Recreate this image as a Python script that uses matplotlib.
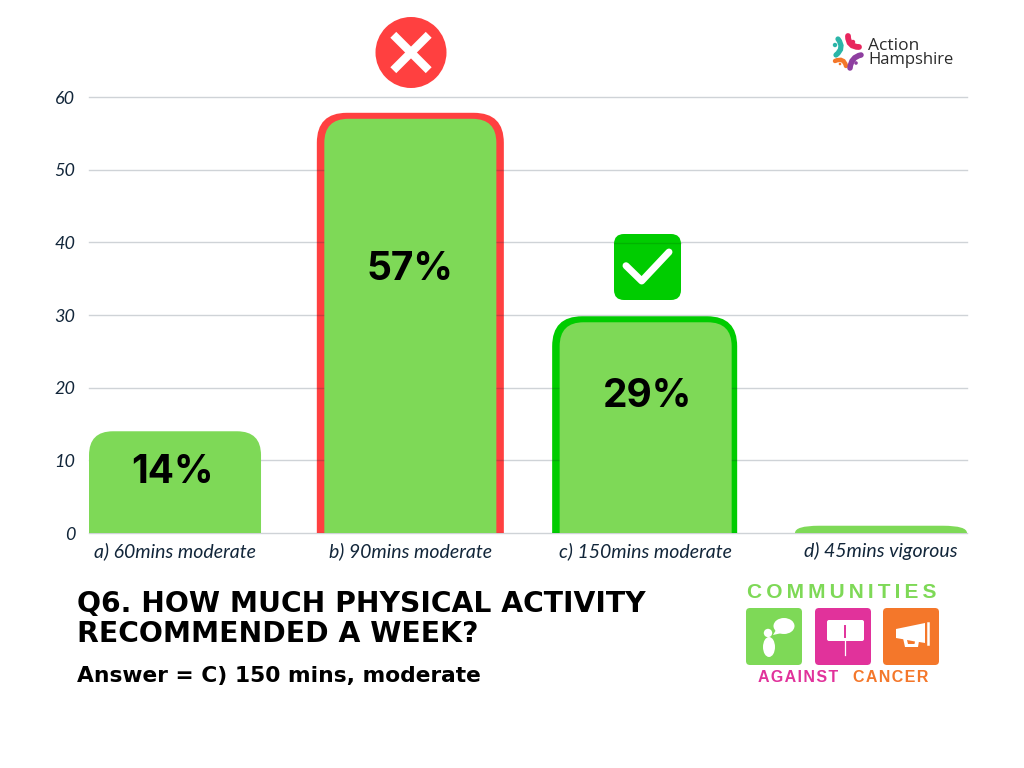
import numpy as np
import matplotlib
matplotlib.use("Agg")
import matplotlib.pyplot as plt
from matplotlib.path import Path
from matplotlib.patches import PathPatch, FancyBboxPatch, Circle, Polygon, Ellipse

categories = ['a) 60mins moderate', 'b) 90mins moderate', 'c) 150mins moderate', 'd) 45mins vigorous']
values = [14, 57, 29, 1]
value_labels = ['14%', '57%', '29%', '']
label_heights = [6.9, 34.8, 17.3, 0]
label_nudge = [-0.012, 0, 0.008, 0]
edge_colors = [None, '#ff4040', '#00cc00', None]
y_ticks = [0, 10, 20, 30, 40, 50, 60]

GREEN = '#7ed957'
PINK = '#e1329b'
ORANGE = '#f4772a'
INK = '#12263a'

W, H = 1024, 768
fig = plt.figure(figsize=(W / 100, H / 100), dpi=100, facecolor='white')

# axes box = plot area
ax = fig.add_axes([89 / W, 1 - 533 / H, 878 / W, 436 / H])
ax.set_ylim(0, 60)
ax.set_xlim(-86 / 235.3, 3 + 86 / 235.3)
px_x = 235.3
px_y = 436 / 60


def top_rounded(x0, x1, top, r):
    rx, ry = r / px_x, r / px_y
    rx = min(rx, (x1 - x0) / 2)
    ry = min(ry, top)
    verts = [(x0, 0), (x0, top - ry), (x0, top), (x0 + rx, top), (x1 - rx, top),
             (x1, top), (x1, top - ry), (x1, 0), (x0, 0)]
    codes = [Path.MOVETO, Path.LINETO, Path.CURVE3, Path.CURVE3, Path.LINETO,
             Path.CURVE3, Path.CURVE3, Path.LINETO, Path.CLOSEPOLY]
    return Path(verts, codes)


half = 86 / px_x
for i, v in enumerate(values):
    if edge_colors[i]:
        pad_l = 7.5
        pad_r = 7.5 if i == 1 else 5.5
        ax.add_patch(PathPatch(top_rounded(i - half - pad_l / px_x, i + half + pad_r / px_x, v + 6 / px_y, 30),
                               fc=edge_colors[i], ec='none', zorder=1, clip_on=False))
    ax.add_patch(PathPatch(top_rounded(i - half, i + half, v, 24), fc=GREEN, ec='none', zorder=4))
    ax.text(i + label_nudge[i], label_heights[i], value_labels[i], ha='center', va='baseline', fontsize=28,
            fontweight='bold', family='Inter', color='black', zorder=5)

ax.set_yticks(y_ticks)
ax.set_xticks(range(len(categories)))
ax.set_xticklabels(categories, fontsize=14, style='italic', family='Lato', color=INK)
for lab in ax.get_yticklabels():
    lab.set(fontsize=13, style='italic', family='Lato', color=INK)
ax.tick_params(length=0, axis='both')
ax.tick_params(axis='x', pad=6.5)
ax.tick_params(axis='y', pad=10)
ax.grid(axis='y', color=INK, alpha=0.2, lw=1, clip_on=False)
ax.set_axisbelow('line')
for s in ax.spines.values():
    s.set_visible(False)

# overlay in pixel coordinates for badges, captions and logos
ov = fig.add_axes([0, 0, 1, 1], zorder=10)
ov.set_xlim(0, W)
ov.set_ylim(H, 0)
ov.axis('off')
ov.patch.set_alpha(0)


def box(x, y, w, h, r, color):
    ov.add_patch(FancyBboxPatch((x + r, y + r), w - 2 * r, h - 2 * r,
                                boxstyle='round,pad=%f,rounding_size=%f' % (r, r), fc=color, ec='none'))


def curve(p0, p1, p2, color, lw):
    ov.add_patch(PathPatch(Path([p0, p1, p2], [Path.MOVETO, Path.CURVE3, Path.CURVE3]),
                           fc='none', ec=color, lw=lw, capstyle='round'))


# cross badge
ov.add_patch(Circle((411, 52.5), 35.5, fc='#ff4040', ec='none'))
ov.plot([393.3, 428.7], [34.8, 70.2], color='white', lw=6, solid_capstyle='butt')
ov.plot([393.3, 428.7], [70.2, 34.8], color='white', lw=6, solid_capstyle='butt')

# tick badge
box(614, 234, 67, 66, 10, '#00cc00')
ov.plot([614, 681], [243, 243], color='black', alpha=0.12, lw=1)
ov.plot([626, 641.7, 669], [265.7, 281, 252], color='white', lw=5, solid_capstyle='round', solid_joinstyle='round')

# caption
ov.text(77, 611.7, 'Q6. HOW MUCH PHYSICAL ACTIVITY', fontsize=20.3, fontweight='bold', family='DejaVu Sans',
        color='black', va='baseline', ha='left')
ov.text(77, 641.7, 'RECOMMENDED A WEEK?', fontsize=20.3, fontweight='bold', family='DejaVu Sans',
        color='black', va='baseline', ha='left')
ov.text(77, 681.7, 'Answer = C) 150 mins, moderate', fontsize=15.7, fontweight='bold', family='DejaVu Sans',
        color='black', va='baseline', ha='left')

# Communities Against Cancer logo
ov.text(842, 592, '\u2009'.join('COMMUNITIES'), fontsize=15, fontweight='bold', family='Liberation Sans',
        color=GREEN, ha='center', va='center')
ov.text(798, 678, '\u200a'.join('AGAINST'), fontsize=11.5, fontweight='bold', family='Liberation Sans',
        color=PINK, ha='center', va='center')
ov.text(890.5, 678, '\u200a'.join('CANCER'), fontsize=11.5, fontweight='bold', family='Liberation Sans',
        color=ORANGE, ha='center', va='center')
box(746, 608, 56, 57, 4, GREEN)
box(815, 608, 56, 57, 4, PINK)
box(883, 608, 56, 57, 4, ORANGE)
# person + speech bubble
ov.add_patch(Circle((768, 633), 4.2, fc='white', ec='none'))
ov.add_patch(Ellipse((769, 647), 12, 20, fc='white', ec='none'))
ov.add_patch(Ellipse((784, 626), 21, 16, fc='white', ec='none'))
ov.add_patch(Polygon([[776, 630], [773, 635], [782, 633]], fc='white', ec='none'))
# sign
box(827, 620, 37, 21, 2, 'white')
ov.plot([845.4, 845.4], [641, 655], color='white', lw=0.9)
ov.plot([845.4, 845.4], [629, 637], color=PINK, lw=1.4)
ov.plot([845.4, 845.4], [625.5, 627.5], color=PINK, lw=1.4)
# megaphone
ov.add_patch(Polygon([[896, 629], [925, 623], [925, 643], [896, 638]], fc='white', ec='none'))
ov.add_patch(Polygon([[903, 638], [919, 641], [918, 647], [905, 647]], fc='white', ec='none'))
ov.add_patch(Polygon([[907, 640], [915, 641.5], [914.5, 644], [908, 644]], fc=ORANGE, ec='none'))
ov.plot([928, 928], [623, 644], color='white', lw=1.8)

# Action Hampshire logo
ov.text(868, 45.5, 'Action', fontsize=12.5, family='Open Sans', color='#2b2b2b', va='center', ha='left')
ov.text(868, 60.5, 'Hampshire', fontsize=12, family='Open Sans', color='#2b2b2b', va='center', ha='left')
curve((848, 36), (848, 47), (859, 47), '#e8265e', 4.2)
ov.add_patch(Circle((853, 42), 2.2, fc='#e8265e', ec='none'))
curve((838, 39), (845, 48), (836, 55), '#2bb5a8', 3.8)
ov.add_patch(Circle((835, 45), 2.2, fc='#2bb5a8', ec='none'))
curve((835, 61), (844, 57), (846, 66), ORANGE, 3.2)
ov.add_patch(Circle((840, 64), 1.3, fc=ORANGE, ec='none'))
curve((861, 55), (851, 57), (850, 68), '#8e3fa0', 4)
ov.add_patch(Circle((856, 63), 1.8, fc='#8e3fa0', ec='none'))

fig.savefig('out.png', dpi=100)
